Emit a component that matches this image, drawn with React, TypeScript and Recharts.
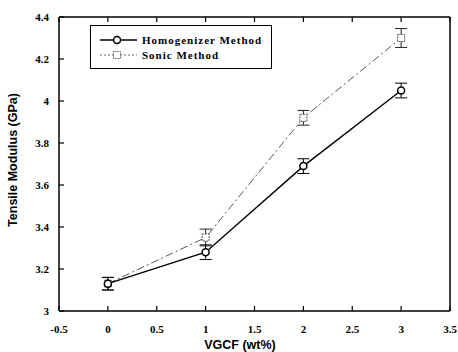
import React from "react";
import { ComposedChart, Line, XAxis, YAxis, ErrorBar, Label } from "recharts";

const vgcf = [0, 1, 2, 3];
const homogenizer = [3.13, 3.28, 3.69, 4.05];
const homogenizerErr = [0.03, 0.035, 0.035, 0.035];
const sonic = [3.13, 3.35, 3.92, 4.3];
const sonicErr = [0.03, 0.04, 0.035, 0.045];

const xTicks = [-0.5, 0, 0.5, 1, 1.5, 2, 2.5, 3, 3.5];
const yTicks = [3, 3.2, 3.4, 3.6, 3.8, 4, 4.2, 4.4];

const seriesNames = ["Homogenizer Method", "Sonic Method"];

const data = vgcf.map((x, i) => ({
  x,
  h: homogenizer[i],
  hErr: homogenizerErr[i],
  s: sonic[i],
  sErr: sonicErr[i],
}));

const tickFont = { fontFamily: "'Liberation Serif', serif", fontWeight: 700, fontSize: 11 };
const titleFont = { fontFamily: "'Liberation Sans', Arial, sans-serif", fontWeight: 700, fontSize: 12.5 };
const TL = 5;

const BottomTick = (p: any) => (
  <g>
    <line x1={p.x} y1={p.y} x2={p.x} y2={p.y - TL} stroke="#000" strokeWidth={1.2} />
    <text x={p.x} y={p.y + 22} textAnchor="middle" fill="#000" {...tickFont}>{p.payload.value}</text>
  </g>
);
const LeftTick = (p: any) => (
  <g>
    <line x1={p.x} y1={p.y} x2={p.x + TL} y2={p.y} stroke="#000" strokeWidth={1.2} />
    <text x={p.x - 10} y={p.y + 4} textAnchor="end" fill="#000" {...tickFont}>{p.payload.value}</text>
  </g>
);
const TopTick = (p: any) => (
  <line x1={p.x} y1={p.y} x2={p.x} y2={p.y + TL} stroke="#000" strokeWidth={1.2} />
);
const RightTick = (p: any) => (
  <line x1={p.x} y1={p.y} x2={p.x - TL} y2={p.y} stroke="#000" strokeWidth={1.2} />
);

const SquareDot = (p: any) => (
  <rect key={`sq-${p.index}`} x={p.cx - 3.5} y={p.cy - 3.5} width={7} height={7} fill="#fff" stroke="#555" strokeWidth={1} strokeDasharray="2 1" />
);

function LegendBox() {
  return (
    <svg width={183} height={45} style={{ position: "absolute", left: 90, top: 25 }}>
      <rect x={0.5} y={0.5} width={181} height={43} fill="#fff" stroke="#000" strokeWidth={1} />
      <line x1={10} y1={15} x2={47} y2={15} stroke="#000" strokeWidth={1.3} />
      <circle cx={27} cy={15} r={3.5} fill="#fff" stroke="#000" strokeWidth={1.5} />
      <text x={52} y={19} fill="#000" letterSpacing={1} {...tickFont}>{seriesNames[0]}</text>
      <line x1={10} y1={30} x2={47} y2={30} stroke="#666" strokeWidth={1} strokeDasharray="2 2" />
      <rect x={23.5} y={26.5} width={7} height={7} fill="#fff" stroke="#666" strokeWidth={1} strokeDasharray="2 1" />
      <text x={52} y={34} fill="#000" letterSpacing={1} {...tickFont}>{seriesNames[1]}</text>
    </svg>
  );
}

export default function App() {
  return (
    <div style={{ position: "absolute", left: 0, top: 0, width: 458, height: 352, background: "#fff" }}>
      <ComposedChart width={458} height={352} data={data} margin={{ top: 0, right: 0, bottom: 0, left: 0 }}>
        <XAxis
          dataKey="x"
          type="number"
          domain={[-0.5, 3.5]}
          ticks={xTicks}
          interval={0}
          height={41}
          tickSize={0}
          tickMargin={0}
          tickLine={false}
          tick={BottomTick}
          axisLine={{ stroke: "#000", strokeWidth: 1.5 }}
        >
          <Label
            content={() => (
              <text x={240} y={349} textAnchor="middle" fill="#000" {...titleFont}>VGCF (wt%)</text>
            )}
          />
        </XAxis>
        <XAxis
          xAxisId="top"
          orientation="top"
          dataKey="x"
          type="number"
          domain={[-0.5, 3.5]}
          ticks={xTicks}
          interval={0}
          height={17}
          tickSize={0}
          tickMargin={0}
          tickLine={false}
          tick={TopTick}
          axisLine={{ stroke: "#000", strokeWidth: 1.5 }}
        />
        <YAxis
          type="number"
          domain={[3, 4.4]}
          ticks={yTicks}
          interval={0}
          width={59}
          tickSize={0}
          tickMargin={0}
          tickLine={false}
          tick={LeftTick}
          axisLine={{ stroke: "#000", strokeWidth: 1.5 }}
        >
          <Label
            content={() => (
              <text
                x={14}
                y={160}
                transform="rotate(-90 14 160)"
                textAnchor="middle"
                dominantBaseline="middle"
                fill="#000"
                {...titleFont}
              >
                Tensile Modulus (GPa)
              </text>
            )}
          />
        </YAxis>
        <YAxis
          yAxisId="right"
          orientation="right"
          type="number"
          domain={[3, 4.4]}
          ticks={yTicks}
          interval={0}
          width={8}
          tickSize={0}
          tickMargin={0}
          tickLine={false}
          tick={RightTick}
          axisLine={{ stroke: "#000", strokeWidth: 1.5 }}
        />
        <Line
          dataKey="s"
          name={seriesNames[1]}
          stroke="#555"
          strokeWidth={1}
          strokeDasharray="8 3 2 3"
          dot={SquareDot}
          isAnimationActive={false}
        >
          <ErrorBar dataKey="sErr" width={6} stroke="#222" strokeWidth={1} direction="y" isAnimationActive={false} />
        </Line>
        <Line
          dataKey="h"
          name={seriesNames[0]}
          stroke="#000"
          strokeWidth={1.4}
          dot={{ r: 3.5, fill: "#fff", stroke: "#000", strokeWidth: 1.5 }}
          isAnimationActive={false}
        >
          <ErrorBar dataKey="hErr" width={6} stroke="#000" strokeWidth={1} direction="y" isAnimationActive={false} />
        </Line>
      </ComposedChart>
      <LegendBox />
    </div>
  );
}
